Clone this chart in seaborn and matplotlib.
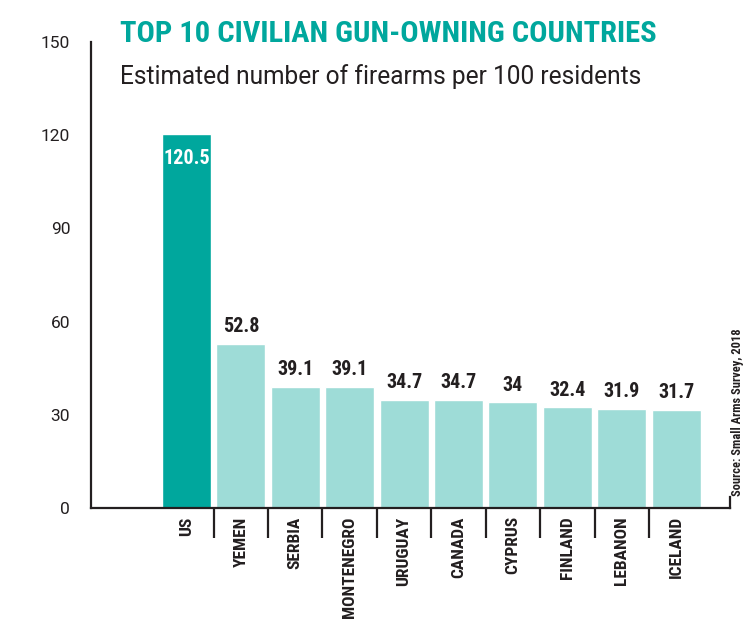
import matplotlib
matplotlib.use("Agg")
import matplotlib.pyplot as plt
import seaborn as sns
import pandas as pd
from matplotlib import font_manager
from matplotlib.ticker import FixedLocator

# ---- data ----
countries = ["US", "YEMEN", "SERBIA", "MONTENEGRO", "URUGUAY",
             "CANADA", "CYPRUS", "FINLAND", "LEBANON", "ICELAND"]
values = [120.5, 52.8, 39.1, 39.1, 34.7, 34.7, 34, 32.4, 31.9, 31.7]
y_ticks = [0, 30, 60, 90, 120, 150]
title = "TOP 10 CIVILIAN GUN-OWNING COUNTRIES"
subtitle = "Estimated number of firearms per 100 residents"
source = "Source: Small Arms Survey, 2018"

TEAL = "#00A79D"
LIGHT = "#9EDCD7"
DARK = "#231F20"

sns.set_theme(style="white")
avail = {f.name for f in font_manager.fontManager.ttflist}


def pick(names):
    for n in names:
        if n in avail:
            return n
    return "DejaVu Sans"


cond = pick(["Liberation Sans Narrow", "DejaVu Sans Condensed",
             "Roboto Condensed", "Open Sans Condensed", "DejaVu Sans"])
plain = pick(["Roboto", "Open Sans", "DejaVu Sans"])
plt.rcParams["font.family"] = [plain, "DejaVu Sans"]

fig = plt.figure(figsize=(7.54, 6.31), dpi=100)
W, H = 754, 631
ax = fig.add_axes([91 / W, 1 - 508 / H, (730 - 91) / W, (508 - 42) / H])

df = pd.DataFrame({"country": countries, "value": values})
palette = {c: (TEAL if i == 0 else LIGHT) for i, c in enumerate(countries)}
sns.barplot(data=df, x="country", y="value", hue="country", order=countries,
            palette=palette, width=0.9, saturation=1, legend=False, ax=ax)

ax.set_xlim(-1.755, 9.99)
ax.set_ylim(0, 150)
ax.set_xlabel("")
ax.set_ylabel("")

# spines
ax.spines["top"].set_visible(False)
for s in ["left", "bottom", "right"]:
    ax.spines[s].set_color(DARK)
    ax.spines[s].set_linewidth(1.6)
ax.spines["left"].set_bounds(0, 150)
ax.spines["right"].set_bounds(0, 3.5)

# y ticks
ax.set_yticks(y_ticks)
ax.set_yticklabels([str(t) for t in y_ticks])
ax.tick_params(axis="y", direction="in", length=12, width=1.6, color=DARK,
               pad=15, labelsize=12.5, labelcolor=DARK)

# x ticks
ax.tick_params(axis="x", which="major", length=0, pad=6)
ax.set_xticks(range(len(countries)))
ax.set_xticklabels(countries, rotation=90, fontfamily=cond, fontweight="bold",
                   fontsize=12.5, color=DARK, va="top")
ax.xaxis.set_minor_locator(FixedLocator([i + 0.5 for i in range(len(countries) - 1)]))
ax.tick_params(axis="x", which="minor", direction="out", length=21.5,
               width=1.6, color=DARK, bottom=True)

# value labels
for i, v in enumerate(values):
    lab = f"{v:g}"
    if i == 0:
        ax.text(i, v - 5, lab, ha="center", va="top", color="white",
                fontfamily=cond, fontweight="bold", fontsize=14.5)
    else:
        ax.text(i, v + 2.5, lab, ha="center", va="bottom", color=DARK,
                fontfamily=cond, fontweight="bold", fontsize=14.5)

# titles
t1 = fig.text(120 / W, 1 - 20 / H, title, ha="left", va="top", color=TEAL,
              fontfamily=cond, fontweight="bold", fontsize=24)
t2 = fig.text(120 / W, 1 - 64 / H, subtitle, ha="left", va="top", color=DARK,
              fontsize=16)
fig.canvas.draw()
r = fig.canvas.get_renderer()
for t, target in [(t1, 538), (t2, 522)]:
    w = t.get_window_extent(r).width
    t.set_fontsize(t.get_fontsize() * target / w)

fig.text(737 / W, 1 - 496 / H, source, rotation=90, ha="center", va="bottom",
         color=DARK, fontfamily=cond, fontweight="bold", fontsize=9)

fig.savefig("out.png", dpi=100)
